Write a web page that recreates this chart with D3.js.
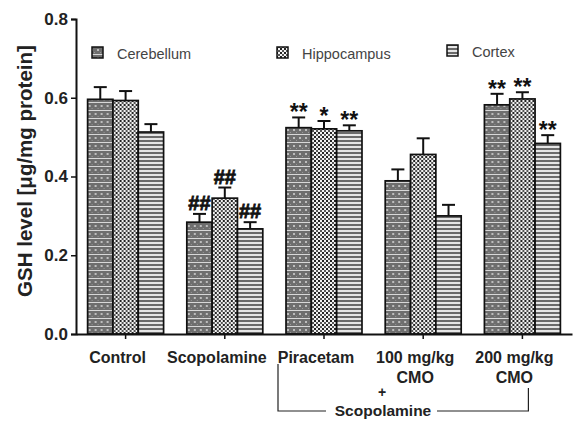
<!DOCTYPE html>
<html><head><meta charset="utf-8">
<script src="https://cdn.jsdelivr.net/npm/d3@7"></script>
<style>body{margin:0;background:#fff}svg{display:block;font-family:"Liberation Sans",Arial,sans-serif}</style>
</head><body>
<svg id="c" width="573" height="421"></svg>
<script>
const groups = ["Control","Scopolamine","Piracetam","100 mg/kg CMO","200 mg/kg CMO"];
const groupLabels = [["Control"],["Scopolamine"],["Piracetam"],["100 mg/kg","CMO"],["200 mg/kg","CMO"]];
const series = ["Cerebellum","Hippocampus","Cortex"];
const cerebellum = [0.596,0.284,0.524,0.389,0.582];
const hippocampus = [0.593,0.345,0.521,0.456,0.597];
const cortex = [0.513,0.267,0.516,0.300,0.484];
const cerebellumErr = [0.031,0.021,0.026,0.029,0.028];
const hippocampusErr = [0.024,0.027,0.020,0.041,0.017];
const cortexErr = [0.020,0.017,0.014,0.028,0.021];
const sigMarks = [["","",""],["##","##","##"],["**","*","**"],["","",""],["**","**","**"]];
const yTicks = [0.0,0.2,0.4,0.6,0.8];

const values = [cerebellum, hippocampus, cortex];
const errs = [cerebellumErr, hippocampusErr, cortexErr];

const svg = d3.select("#c");
const defs = svg.append("defs");

// Cerebellum pattern
let p = defs.append("pattern").attr("id","pat0").attr("patternUnits","userSpaceOnUse").attr("width",6).attr("height",8);
p.append("rect").attr("width",6).attr("height",8).attr("fill","#6e6e6e");
p.append("rect").attr("x",1).attr("y",1).attr("width",2).attr("height",2).attr("fill","#bdbdbd");
p.append("rect").attr("x",4).attr("y",4).attr("width",1).attr("height",1).attr("fill","#999");
p.append("rect").attr("x",0).attr("y",6).attr("width",6).attr("height",1).attr("fill","#d8d8d8");
// Hippocampus pattern
p = defs.append("pattern").attr("id","pat1").attr("patternUnits","userSpaceOnUse").attr("width",4).attr("height",4);
p.append("rect").attr("width",4).attr("height",4).attr("fill","#f2f2f2");
p.append("rect").attr("x",0).attr("y",0).attr("width",2).attr("height",2).attr("fill","#222");
p.append("rect").attr("x",2).attr("y",2).attr("width",2).attr("height",2).attr("fill","#555");
// Cortex pattern
p = defs.append("pattern").attr("id","pat2").attr("patternUnits","userSpaceOnUse").attr("width",4).attr("height",4);
p.append("rect").attr("width",4).attr("height",4).attr("fill","#e6e6e6");
p.append("rect").attr("x",0).attr("y",0).attr("width",4).attr("height",2).attr("fill","#6a6a6a");

const x0 = d3.scaleBand().domain(groups).range([76,572]).paddingInner(0.234).paddingOuter(0.117);
const x1 = d3.scaleBand().domain(series).range([0,x0.bandwidth()]);
const y = d3.scaleLinear().domain([0,0.8]).range([334,19]);

groups.forEach((g,gi)=>{
  const gEl = svg.append("g").attr("transform",`translate(${x0(g)},0)`);
  series.forEach((s,si)=>{
    const v = values[si][gi], e = errs[si][gi];
    const bx = x1(s), bw = x1.bandwidth(), cx = bx + bw/2;
    gEl.append("line").attr("x1",cx).attr("x2",cx).attr("y1",y(v)).attr("y2",y(v+e)).attr("stroke","#111").attr("stroke-width",2);
    gEl.append("line").attr("x1",cx-6.5).attr("x2",cx+6.5).attr("y1",y(v+e)).attr("y2",y(v+e)).attr("stroke","#111").attr("stroke-width",2);
    gEl.append("rect").attr("x",bx).attr("y",y(v)).attr("width",bw).attr("height",y(0)-y(v))
      .attr("fill",`url(#pat${si})`).attr("stroke","#111").attr("stroke-width",1.7);
    const m = sigMarks[gi][si];
    if(m){
      const isHash = m.startsWith("#");
      gEl.append("text").attr("x",cx).attr("y",y(v+e) + (isHash?-4:3)).attr("text-anchor","middle")
        .attr("font-weight","bold").attr("font-size",isHash?20:23).attr("fill","#111")
        .attr("stroke",isHash?"#111":"none").attr("stroke-width",isHash?0.8:0).text(m);
    }
  });
});

// Y axis
const yAxis = svg.append("g").attr("transform","translate(76,0)")
  .call(d3.axisLeft(y).tickValues(yTicks).tickFormat(d3.format(".1f")).tickSize(5).tickPadding(3));
yAxis.select(".domain").attr("stroke","#111").attr("stroke-width",2);
yAxis.selectAll(".tick line").attr("stroke","#111").attr("stroke-width",1.5);
yAxis.selectAll(".tick text").attr("font-size",17).attr("font-weight","bold").attr("fill","#222").attr("font-family","Liberation Sans, Arial, sans-serif");

// X axis
const xAxis = svg.append("g").attr("transform","translate(0,334)")
  .call(d3.axisBottom(x0).tickSize(5).tickSizeOuter(0).tickFormat(""));
xAxis.select(".domain").attr("stroke","#111").attr("stroke-width",2);
xAxis.selectAll(".tick line").attr("stroke","#111").attr("stroke-width",1.5);

// X labels
groups.forEach((g,gi)=>{
  const t = svg.append("text").attr("text-anchor","middle").attr("font-weight","bold").attr("font-size",16).attr("fill","#222");
  groupLabels[gi].forEach((line,li)=>{
    t.append("tspan").attr("x",x0(g)+x0.bandwidth()/2-8).attr("y",363+li*20).text(line);
  });
});

// Bracket
const cx2 = x0(groups[2])+x0.bandwidth()/2, cx4 = x0(groups[4])+x0.bandwidth()/2;
svg.append("path").attr("d",`M${cx2-46},364 V411 H326`).attr("fill","none").attr("stroke","#222").attr("stroke-width",1.2);
svg.append("path").attr("d",`M437,411 H${cx4+6} V388`).attr("fill","none").attr("stroke","#222").attr("stroke-width",1.2);
svg.append("text").attr("x",382).attr("y",397).attr("text-anchor","middle").attr("font-weight","bold").attr("font-size",14).attr("fill","#222").text("+");
svg.append("text").attr("x",383).attr("y",416).attr("text-anchor","middle").attr("font-weight","bold").attr("font-size",15.5).attr("fill","#222").text("Scopolamine");

// Y title
svg.append("text").attr("transform","translate(32,171) rotate(-90)").attr("text-anchor","middle")
  .attr("font-weight","bold").attr("font-size",20.5).attr("fill","#222").text("GSH level [μg/mg protein]");

// Legend
const legendPos = [[92,47,117,59],[277,47,302,59],[447,45,472,57]];
series.forEach((s,si)=>{
  const [rx,ry,tx,ty] = legendPos[si];
  svg.append("rect").attr("x",rx).attr("y",ry).attr("width",11).attr("height",11).attr("fill",`url(#pat${si})`).attr("stroke","#111").attr("stroke-width",1.5);
  svg.append("text").attr("x",tx).attr("y",ty).attr("font-size",14.5).attr("fill","#444").text(s);
});
</script>
</body></html>
